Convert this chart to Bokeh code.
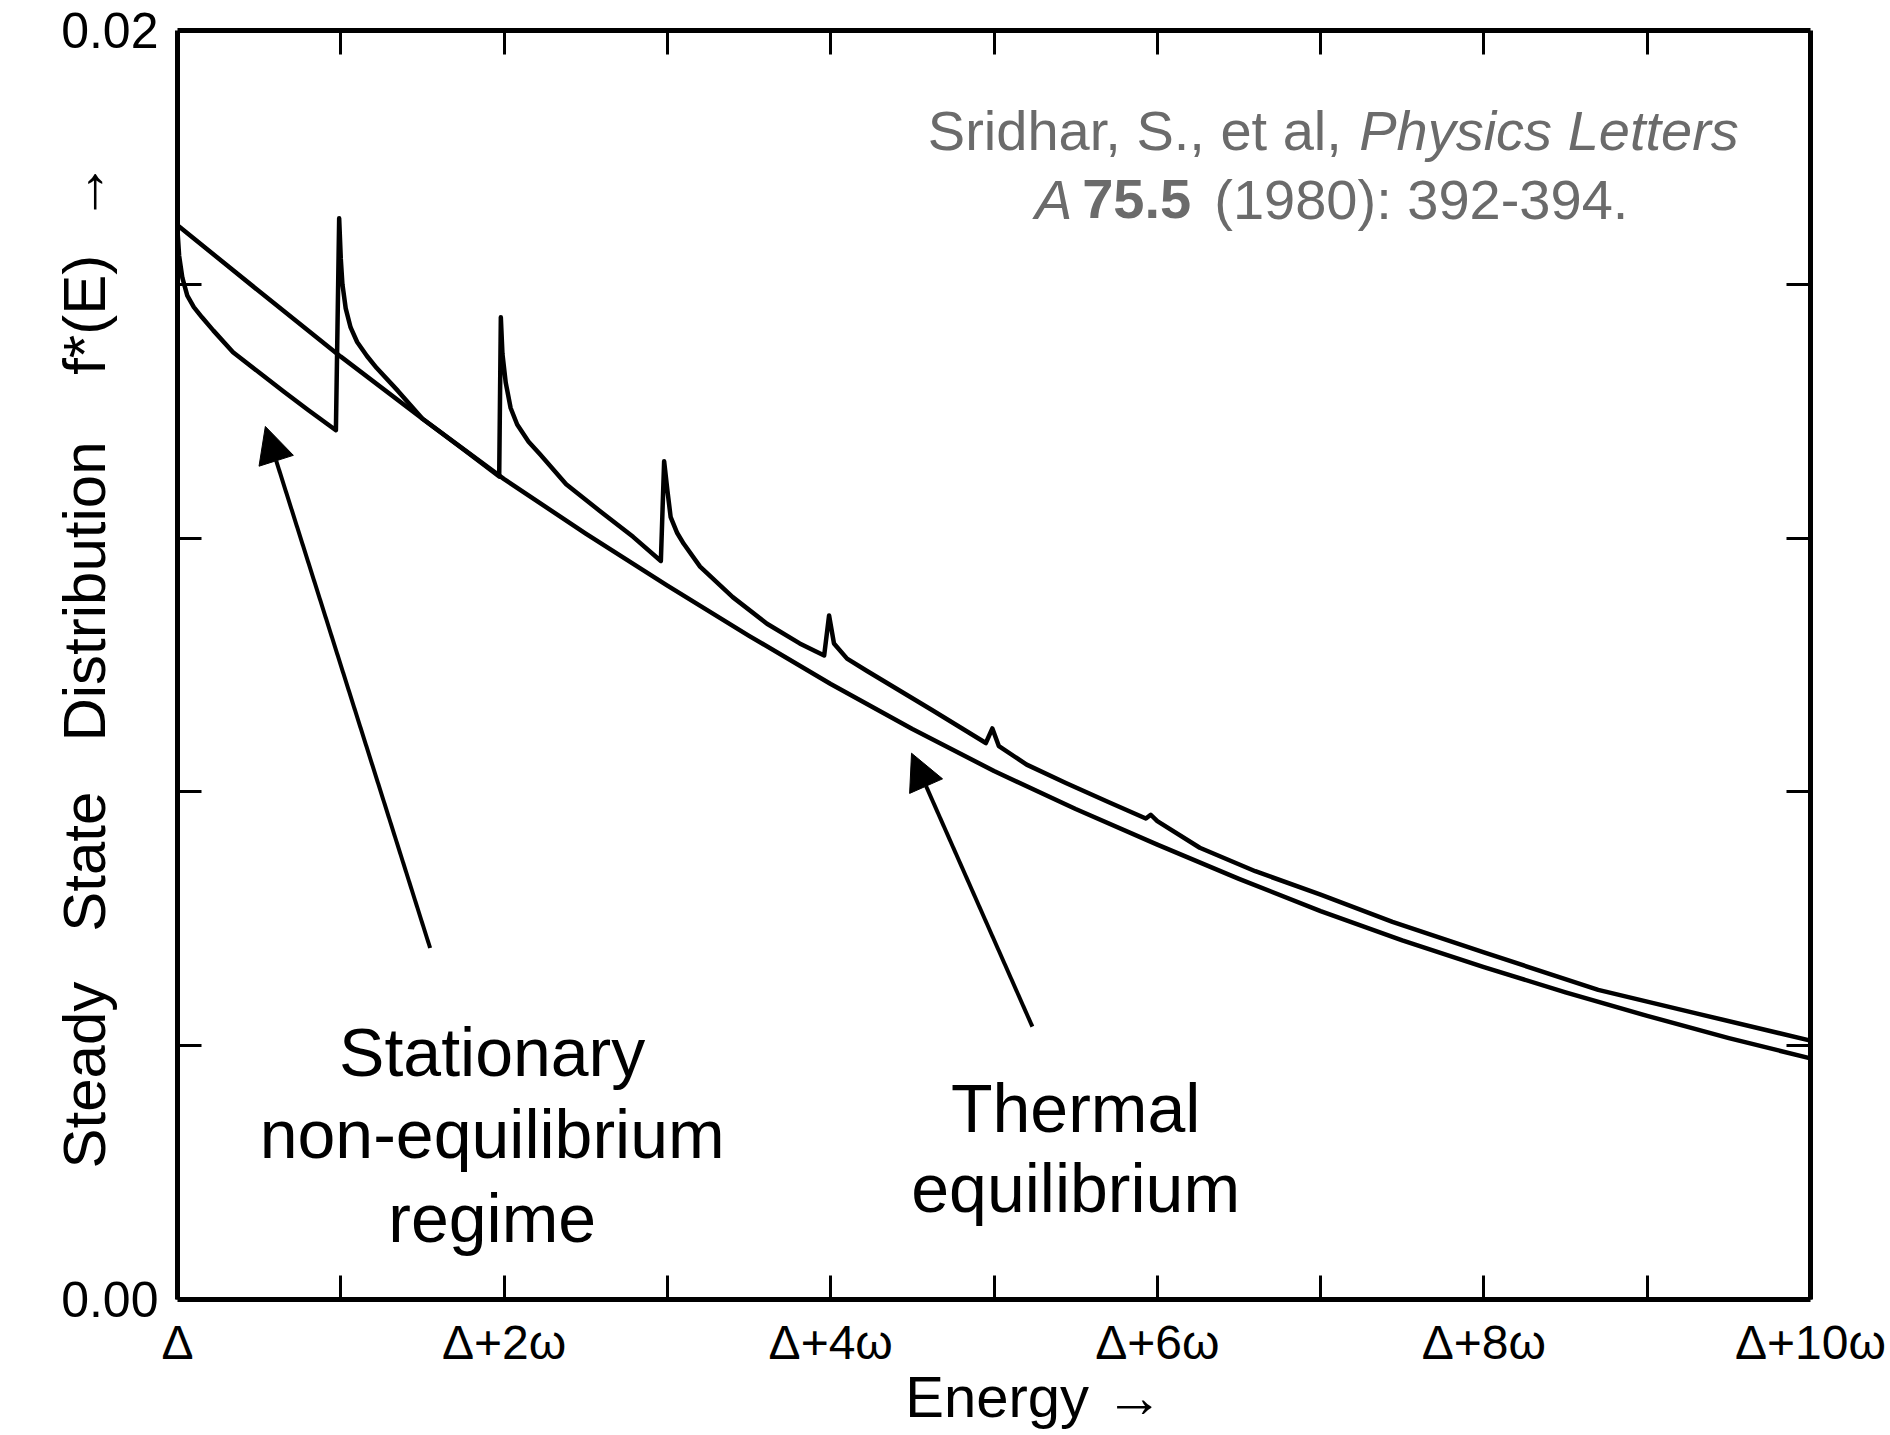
from bokeh.plotting import figure
from bokeh.models import Range1d, LinearAxis, FixedTicker, Label, Arrow, NormalHead
from bokeh.embed import file_html
from bokeh.resources import INLINE

# ---------------- data (energy in units of omega above Delta) ----------------
energy_thermal = [0.0, 0.5, 1.0, 1.5, 2.0, 2.5, 3.0, 3.5, 4.0, 4.5, 5.0, 5.5,
                  6.0, 6.5, 7.0, 7.5, 8.0, 8.5, 9.0, 9.5, 10.0]
f_thermal = [0.01693, 0.01589, 0.01486, 0.01388, 0.01293, 0.01207, 0.01125, 0.01046,
             0.00970, 0.00899, 0.00833, 0.00773, 0.00717, 0.00663, 0.00612, 0.00566,
             0.00524, 0.00484, 0.00447, 0.00412, 0.00380]

energy_nonequil = [0.0, 0.01, 0.03, 0.06, 0.10, 0.15, 0.22, 0.34, 0.50, 0.65, 0.80, 0.97,
                   0.99, 1.00, 1.01, 1.03, 1.06, 1.10, 1.16, 1.22, 1.35, 1.50, 1.75, 1.97,
                   1.98, 1.99, 2.01, 2.04, 2.08, 2.15, 2.22, 2.38, 2.59, 2.79, 2.96,
                   2.98, 3.00, 3.02, 3.06, 3.10, 3.20, 3.40, 3.61, 3.81, 3.96,
                   3.99, 4.02, 4.10, 4.22, 4.62, 4.95,
                   4.99, 5.03, 5.20, 5.44, 5.70, 5.93, 5.96, 6.00, 6.26, 6.60, 7.00, 7.44,
                   8.00, 8.70, 9.30, 10.0]
f_nonequil = [0.01685, 0.01645, 0.01610, 0.01582, 0.01564, 0.01548, 0.01527, 0.01493,
              0.01461, 0.01431, 0.01402, 0.01370,
              0.01704, 0.01640, 0.01600, 0.01562, 0.01532, 0.01509, 0.01487, 0.01468,
              0.01432, 0.01388, 0.01340, 0.01297,
              0.01548, 0.01490, 0.01445, 0.01405, 0.01379, 0.01352, 0.01332, 0.01285,
              0.01242, 0.01202, 0.01164,
              0.01321, 0.01275, 0.01233, 0.01208, 0.01191, 0.01155, 0.01107, 0.01065,
              0.01034, 0.01015,
              0.01078, 0.01034, 0.01010, 0.00991, 0.00929, 0.00877,
              0.00900, 0.00872, 0.00843, 0.00814, 0.00784, 0.00758, 0.00764, 0.00754,
              0.00712, 0.00675, 0.00638, 0.00595, 0.00547, 0.00488, 0.00451, 0.00408]

x_tick_values = [0, 2, 4, 6, 8, 10]
x_tick_labels = ["Δ", "Δ+2ω", "Δ+4ω", "Δ+6ω", "Δ+8ω", "Δ+10ω"]
x_minor_ticks = [1, 3, 5, 7, 9]
x_top_ticks = [1, 2, 3, 4, 5, 6, 7, 8, 9]
y_tick_values = [0.004, 0.008, 0.012, 0.016]
y_label_values = [0.0, 0.02]
y_label_texts = ["0.00", "0.02"]

FONT = "Liberation Sans"
NB = "\u00a0"

p = figure(width=1890, height=1435,
           x_range=Range1d(0, 10), y_range=Range1d(0, 0.02),
           output_backend="svg", toolbar_location=None,
           x_axis_location=None, y_axis_location=None,
           min_border_left=177, min_border_right=80,
           min_border_top=30, min_border_bottom=136)
p.outline_line_color = None
p.grid.visible = False
p.background_fill_color = "white"
p.border_fill_color = "white"

TICK = 24
AX_W = 5

bottom = LinearAxis(ticker=FixedTicker(ticks=x_tick_values, minor_ticks=x_minor_ticks),
                    major_label_overrides=dict(zip(x_tick_values, x_tick_labels)),
                    major_tick_in=TICK, major_tick_out=0,
                    minor_tick_in=TICK, minor_tick_out=0,
                    axis_line_width=AX_W, major_tick_line_width=3, minor_tick_line_width=3,
                    major_label_text_font=FONT, major_label_text_font_size="48px",
                    major_label_text_color="black", major_label_standoff=16,
                    axis_label=NB * 5 + "Energy" + NB + "→",
                    axis_label_text_font=FONT, axis_label_text_font_size="58px",
                    axis_label_text_font_style="normal", axis_label_text_color="black",
                    axis_label_standoff=-8)
p.add_layout(bottom, "below")

top = LinearAxis(ticker=FixedTicker(ticks=[], minor_ticks=x_top_ticks),
                 major_tick_in=TICK, major_tick_out=0,
                 minor_tick_in=TICK, minor_tick_out=0,
                 axis_line_width=AX_W, minor_tick_line_width=3,
                 major_label_text_font_size="0px")
p.add_layout(top, "above")

left = LinearAxis(ticker=FixedTicker(ticks=y_label_values, minor_ticks=y_tick_values),
                  major_label_overrides=dict(zip(y_label_values, y_label_texts)),
                  major_tick_in=0, major_tick_out=0,
                  minor_tick_in=TICK, minor_tick_out=0,
                  axis_line_width=AX_W, minor_tick_line_width=3,
                  major_label_text_font=FONT, major_label_text_font_size="50px",
                  major_label_text_color="black", major_label_standoff=19,
                  axis_label="Steady" + NB * 3 + "State" + NB * 3 + "Distribution" + NB * 4 + "f*(E)" + NB * 2 + "→",
                  axis_label_text_font=FONT, axis_label_text_font_size="60px",
                  axis_label_text_font_style="normal", axis_label_text_color="black",
                  axis_label_standoff=-60)
p.add_layout(left, "left")

right = LinearAxis(ticker=FixedTicker(ticks=[], minor_ticks=y_tick_values),
                   major_tick_in=TICK, major_tick_out=0,
                   minor_tick_in=TICK, minor_tick_out=0,
                   axis_line_width=AX_W, minor_tick_line_width=3,
                   major_label_text_font_size="0px")
p.add_layout(right, "right")

# curves
p.line(energy_thermal, f_thermal, line_width=4.5, line_color="black", line_join="round")
p.line(energy_nonequil, f_nonequil, line_width=4.5, line_color="black", line_join="round")

# annotations (inside the frame)
for txt, yy in [("Stationary", 0.00390), ("non-equilibrium", 0.00261), ("regime", 0.00129)]:
    p.add_layout(Label(x=1.927, y=yy, text=txt, text_font=FONT, text_font_size="68px",
                       text_align="center", text_baseline="alphabetic", text_color="black"))
for txt, yy in [("Thermal", 0.00302), ("equilibrium", 0.00176)]:
    p.add_layout(Label(x=5.50, y=yy, text=txt, text_font=FONT, text_font_size="68px",
                       text_align="center", text_baseline="alphabetic", text_color="black"))

GRAY = "#6b6b6b"
cite = [
    ("Sridhar, S., et al,", 7.13, 0.01842, "right", "normal"),
    ("Physics Letters", 7.236, 0.01842, "left", "italic"),
    ("A", 5.48, 0.01734, "right", "italic"),
    ("75.5", 5.54, 0.01734, "left", "bold"),
    ("(1980): 392-394.", 6.349, 0.01734, "left", "normal"),
]
for txt, xx, yy, al, st in cite:
    p.add_layout(Label(x=xx, y=yy, text=txt, text_font=FONT, text_font_size="56px",
                       text_font_style=st, text_align=al, text_baseline="alphabetic",
                       text_color=GRAY))

# arrows
for xs, ys, xe, ye in [(1.547, 0.00554, 0.538, 0.01376), (5.235, 0.00430, 4.495, 0.00861)]:
    p.add_layout(Arrow(end=NormalHead(size=36, fill_color="black", line_color="black"),
                       x_start=xs, y_start=ys, x_end=xe, y_end=ye,
                       line_width=4, line_color="black"))

open("out.html", "w").write(file_html(p, INLINE))
